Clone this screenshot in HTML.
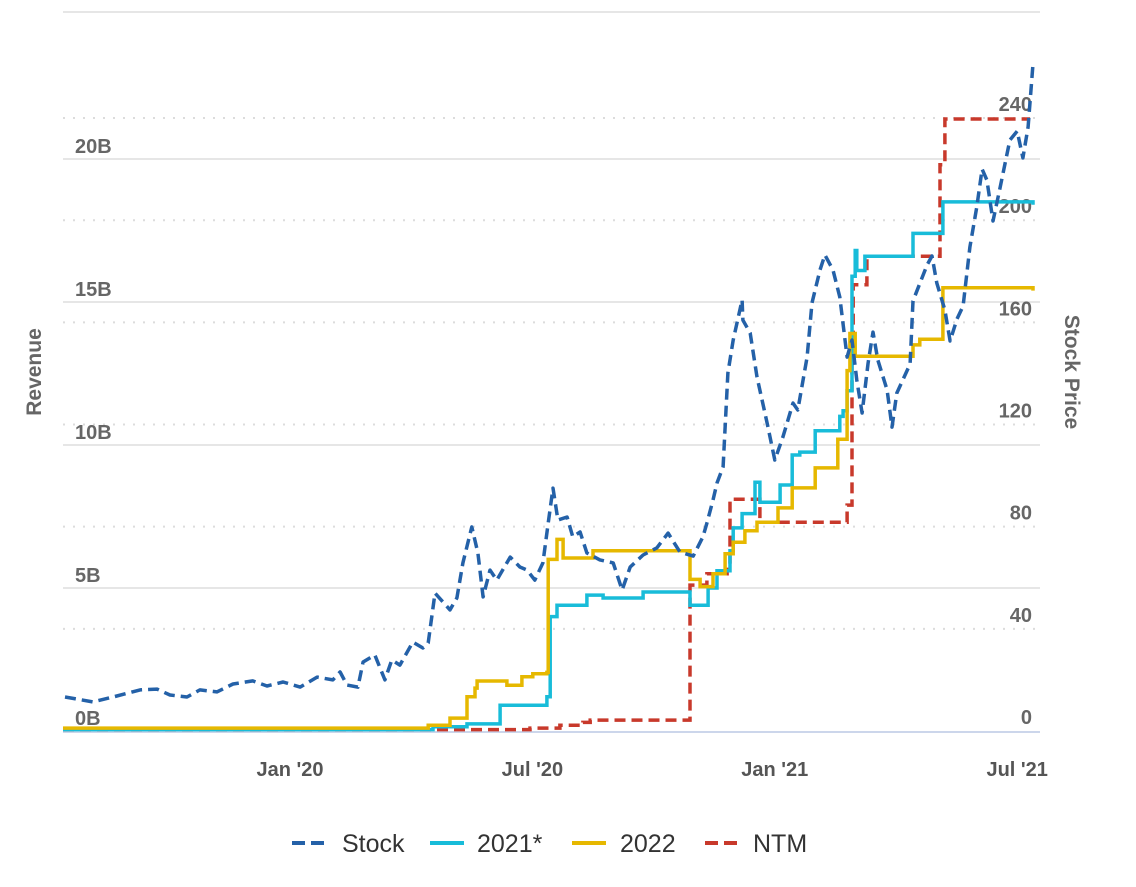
<!DOCTYPE html>
<html><head><meta charset="utf-8"><style>
html,body{margin:0;padding:0;background:#fff;}
svg{display:block;font-family:"Liberation Sans",sans-serif;}
</style></head><body>
<svg id="chart" width="1136" height="887" viewBox="0 0 1136 887" xmlns="http://www.w3.org/2000/svg">
<g id="grid"></g>
<g id="axes"></g>
<g id="series"></g>
<g id="legend"></g>
</svg>
<script>
// time in months since Jan 2020
const revTicks = [0,5,10,15,20];
const revTickLabels = ["0B","5B","10B","15B","20B"];
const priceTicks = [0,40,80,120,160,200,240];
const xTicks = [0,6,12,18];
const xTickLabels = ["Jan '20","Jul '20","Jan '21","Jul '21"];

const stockT = [-5.57,-4.88,-4.38,-3.71,-3.29,-2.97,-2.55,-2.23,-1.81,-1.41,-0.92,-0.57,-0.17,0.25,0.67,1.06,1.24,1.41,1.68,1.81,2.10,2.35,2.52,2.72,3.04,3.29,3.42,3.59,3.96,4.13,4.28,4.50,4.65,4.78,4.95,5.12,5.45,5.69,5.87,6.06,6.26,6.39,6.51,6.63,6.86,7.00,7.18,7.35,7.67,8.00,8.22,8.42,8.74,9.08,9.36,9.65,9.98,10.22,10.32,10.47,10.57,10.72,10.84,10.97,11.19,11.21,11.39,11.56,11.81,12.00,12.20,12.45,12.57,12.80,12.92,13.12,13.24,13.44,13.61,13.79,13.91,14.03,14.16,14.31,14.43,14.55,14.78,14.90,15.02,15.35,15.42,15.77,15.89,16.01,16.21,16.34,16.51,16.66,16.83,17.00,17.13,17.25,17.40,17.57,17.82,18.00,18.14,18.27,18.39];
const stockV = [13.3,11.4,13.3,16.1,16.4,14.1,13.3,16.1,15.3,18.4,19.6,17.6,19.2,17.2,21.1,20.0,23.1,18.0,17.2,27.0,29.8,20.0,27.8,25.8,34.8,32.5,34.5,54.0,47.4,52.1,65.8,79.9,69.7,52.5,63.0,59.1,68.1,64.2,63.0,59.1,65.8,81.4,95.1,82.6,83.8,76.0,77.9,69.7,67.0,65.8,55.2,64.2,68.9,71.7,77.5,70.1,68.5,76.0,81.4,90.4,97.1,103.4,140.2,153.1,168.8,160.9,155.8,138.6,120.6,106.1,115.1,128.4,125.7,146.4,167.6,180.5,186.4,180.5,169.9,146.4,153.1,137.4,124.5,144.1,156.2,145.3,133.5,119.0,132.3,143.7,168.4,182.5,186.0,175.4,164.8,152.7,161.3,166.4,189.5,205.2,220.0,215.7,199.7,212.2,231.4,234.9,224.4,236.5,261.2];

const r21T = [-5.62,3.54,4.38,5.20,6.36,6.44,6.61,7.35,7.75,8.74,9.90,10.35,10.57,10.89,10.97,11.19,11.51,11.63,12.13,12.43,12.62,13.00,13.61,13.69,13.79,13.91,13.99,14.03,14.23,15.42,16.16,18.39];
const r21V = [0.05,0.15,0.25,0.9,1.2,4.0,4.4,4.75,4.65,4.86,4.4,5.0,5.6,6.3,7.1,7.6,8.7,8.0,8.6,9.65,9.75,10.5,11.0,11.2,11.9,15.9,16.8,16.1,16.6,17.4,18.5,18.4];

const r22T = [-5.62,3.42,3.96,4.38,4.58,4.63,5.37,5.74,6.01,6.36,6.39,6.61,6.76,7.50,9.90,10.15,10.47,10.77,10.97,11.26,11.56,12.08,12.43,13.00,13.56,13.79,13.86,13.99,15.42,15.59,16.16,18.39];
const r22V = [0.1,0.2,0.45,1.2,1.5,1.75,1.6,1.9,2.0,2.05,6.0,6.7,6.05,6.3,5.3,5.05,5.5,6.2,6.6,7.0,7.3,7.8,8.5,9.2,10.2,12.6,13.9,13.1,13.5,13.7,15.5,15.4];

const ntmT = [-5.62,5.94,6.68,7.25,7.43,9.90,10.32,10.82,10.89,11.63,13.79,13.91,13.94,14.28,16.09,16.21,18.32];
const ntmV = [0.05,0.1,0.2,0.3,0.38,5.1,5.5,5.65,8.1,7.3,7.9,13.8,15.6,16.6,19.8,21.4,21.4];

const NS="http://www.w3.org/2000/svg";
const X0=63, X1=1040, Y0=731;
function xs(t){return 290 + t*40.4;}
function yRev(v){return Y0 - v*28.6;}
function yPrice(v){return Y0 - v*2.554;}
function mk(tag,attrs,parent){const e=document.createElementNS(NS,tag);for(const k in attrs)e.setAttribute(k,attrs[k]);parent.appendChild(e);return e;}

const grid=document.getElementById('grid'), axes=document.getElementById('axes'), series=document.getElementById('series'), legend=document.getElementById('legend');

// solid grid (revenue) incl. top 25B line
[...revTicks,25].forEach(v=>{
  if(v===0) return;
  const y=yRev(v)+(v===25?-4:0);
  const l=mk('line',{x1:X0,x2:X1,y1:y,y2:y,stroke:'#e6e6e6','stroke-width':2},grid);
  
  
});
priceTicks.forEach(v=>{
  if(v===0) return;
  const y=yPrice(v);
  const l=mk('line',{x1:X0,x2:X1,y1:y,y2:y,stroke:'#dcdcdc','stroke-width':2,'stroke-dasharray':'2,8'},grid);
  
  
});
const xl=mk('line',{x1:X0,x2:X1,y1:Y0+1,y2:Y0+1,stroke:'#ccd6eb','stroke-width':2},axes);



revTicks.forEach((v,i)=>{
  const t=mk('text',{x:75,y:yRev(v)-6,'font-size':20,'font-weight':'bold',fill:'#666'},axes);
  t.textContent=revTickLabels[i];
  
  
});
priceTicks.forEach(v=>{
  const t=mk('text',{x:1032,y:yPrice(v)-7,'font-size':20,'font-weight':'bold',fill:'#666','text-anchor':'end'},axes);
  t.textContent=String(v);
  
  
});
xTicks.forEach((v,i)=>{
  const t=mk('text',{x:xs(v),y:776,'font-size':20,'font-weight':'bold',fill:'#555','text-anchor':'middle'},axes);
  t.textContent=xTickLabels[i];
  
  
});
const yt=mk('text',{x:0,y:0,'font-size':21,'font-weight':'bold',fill:'#666','text-anchor':'middle',transform:'translate(41,372) rotate(-90)'},axes);
yt.textContent='Revenue';


const yt2=mk('text',{x:0,y:0,'font-size':21,'font-weight':'bold',fill:'#666','text-anchor':'middle',transform:'translate(1065,372) rotate(90)'},axes);
yt2.textContent='Stock Price';



function stepPath(T,V){let d='';for(let i=0;i<T.length;i++){const x=xs(T[i]).toFixed(1),y=yRev(V[i]).toFixed(1);if(i===0)d+='M'+x+','+y;else{d+='H'+x+'V'+y;}}return d;}
function linePath(T,V){return T.map((t,i)=>(i?'L':'M')+xs(t).toFixed(1)+','+yPrice(V[i]).toFixed(1)).join('');}

const pN=mk('path',{d:stepPath(ntmT,ntmV),fill:'none',stroke:'#c8392b','stroke-width':3.5,'stroke-dasharray':'11,6'},series);


const p21=mk('path',{d:stepPath(r21T,r21V),fill:'none',stroke:'#18bcd9','stroke-width':3.5},series);


const p22=mk('path',{d:stepPath(r22T,r22V),fill:'none',stroke:'#e6b800','stroke-width':3.5},series);


const pS=mk('path',{d:linePath(stockT,stockV),fill:'none',stroke:'#2461a8','stroke-width':3.5,'stroke-dasharray':'11,6','stroke-linejoin':'round'},series);



const items=[["Stock","#2461a8",true,292,342],["2021*","#18bcd9",false,430,477],["2022","#e6b800",false,572,620],["NTM","#c8392b",true,705,753]];
items.forEach(it=>{
  const g=mk('g',{},legend);
  
  
  const l=mk('line',{x1:it[3],x2:it[3]+34,y1:843,y2:843,stroke:it[1],'stroke-width':4,'stroke-dasharray':it[2]?'13,6':'none'},g);
  
  
  const t=mk('text',{x:it[4],y:852,'font-size':25,fill:'#333'},g);
  t.textContent=it[0];
  
  
});
</script>
</body></html>
